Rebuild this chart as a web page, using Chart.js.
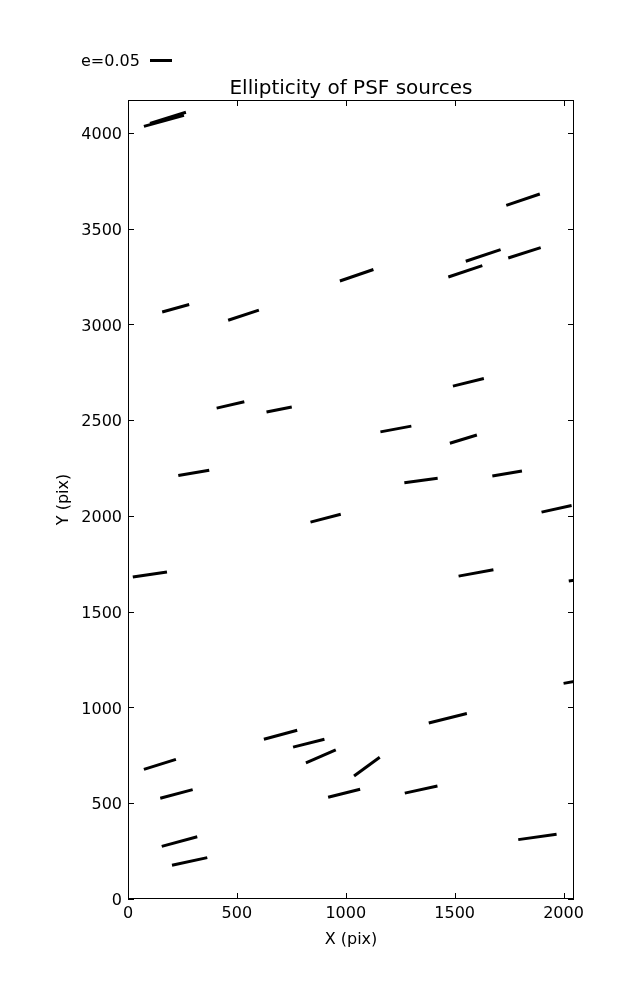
<!DOCTYPE html>
<html>
<head>
<meta charset="utf-8">
<title>Ellipticity of PSF sources</title>
<script src="https://cdn.jsdelivr.net/npm/chart.js@4.4.1/dist/chart.umd.min.js"></script>
<style>
    html, body { margin: 0; padding: 0; background: #fff; }
    canvas { display: block; }
</style>
</head>
<body>
<canvas id="psfChart" width="637" height="1000"></canvas>
<script>
// Whisker end points (detector pixels), one entry per PSF source
const xStart = [73, 101, 157, 460, 973, 1471, 1551, 1737, 1746, 407, 636, 231, 838, 22,
                1492, 1159, 1478, 1269, 1673, 1899, 1518, 2024, 624, 758, 817, 1038,
                919, 73, 148, 155, 202, 1381, 1271, 1792, 2000];
const yStart = [4034, 4050, 3065, 3022, 3227, 3248, 3330, 3622, 3347, 2563, 2543, 2211, 1968, 1681,
                2678, 2439, 2380, 2173, 2209, 2020, 1686, 1661, 834, 793, 711, 642,
                531, 677, 526, 275, 176, 919, 553, 310, 1126];
const xEnd   = [257, 266, 281, 601, 1127, 1627, 1711, 1891, 1895, 534, 752, 373, 977, 179,
                1634, 1301, 1602, 1422, 1809, 2037, 1678, 2165, 777, 902, 954, 1156,
                1066, 220, 297, 318, 364, 1556, 1421, 1968, 2156];
const yEnd   = [4092, 4108, 3104, 3075, 3287, 3307, 3391, 3681, 3401, 2596, 2569, 2239, 2009, 1707,
                2718, 2469, 2423, 2197, 2235, 2055, 1719, 1683, 881, 834, 779, 740,
                573, 729, 571, 325, 216, 969, 590, 338, 1157];

// Axes
const xTicks = [0, 500, 1000, 1500, 2000];
const yTicks = [0, 500, 1000, 1500, 2000, 2500, 3000, 3500, 4000];
const xRange = [0, 2048];
const yRange = [0, 4172];

Chart.defaults.font.family = "'DejaVu Sans', sans-serif";
Chart.defaults.font.size = 16;
Chart.defaults.color = '#000';

// Build one two-point line per whisker
const datasets = xStart.map((x0, i) => ({
    data: [{ x: x0, y: yStart[i] }, { x: xEnd[i], y: yEnd[i] }],
    showLine: true,
    borderColor: '#000',
    borderWidth: 3,
    pointRadius: 0,
    clip: 0
}));

// Frame, inward ticks, title, axis labels and whisker key
const framePlugin = {
    id: 'frame',
    afterDraw(chart) {
        const { ctx, chartArea: a, scales: { x, y } } = chart;
        ctx.save();
        ctx.strokeStyle = '#000';
        ctx.lineWidth = 1;
        ctx.strokeRect(a.left + 0.5, a.top + 0.5, a.right - a.left - 1, a.bottom - a.top - 1);

        ctx.beginPath();
        xTicks.forEach(v => {
            const px = Math.round(x.getPixelForValue(v)) + 0.5;
            ctx.moveTo(px, a.bottom); ctx.lineTo(px, a.bottom - 6);
            ctx.moveTo(px, a.top); ctx.lineTo(px, a.top + 6);
        });
        yTicks.forEach(v => {
            const py = Math.round(y.getPixelForValue(v)) + 0.5;
            ctx.moveTo(a.left, py); ctx.lineTo(a.left + 6, py);
            ctx.moveTo(a.right, py); ctx.lineTo(a.right - 6, py);
        });
        ctx.stroke();

        ctx.fillStyle = '#000';
        ctx.textAlign = 'center';
        ctx.textBaseline = 'middle';
        ctx.font = "20px 'DejaVu Sans'";
        ctx.fillText('Ellipticity of PSF sources', (a.left + a.right) / 2, 89);

        ctx.font = "16px 'DejaVu Sans'";
        ctx.fillText('X (pix)', (a.left + a.right) / 2, 940);

        ctx.save();
        ctx.translate(64, (a.top + a.bottom) / 2);
        ctx.rotate(-Math.PI / 2);
        ctx.fillText('Y (pix)', 0, 0);
        ctx.restore();

        // key: e=0.05
        ctx.textAlign = 'left';
        ctx.fillText('e=0.05', 81, 62);
        ctx.lineWidth = 3;
        ctx.beginPath();
        ctx.moveTo(150, 60.5);
        ctx.lineTo(172, 60.5);
        ctx.stroke();
        ctx.restore();
    }
};

new Chart(document.getElementById('psfChart').getContext('2d'), {
    type: 'scatter',
    data: { datasets },
    options: {
        responsive: false,
        animation: false,
        layout: { padding: { top: 100, right: 63, bottom: 0, left: 0 } },
        plugins: {
            legend: { display: false },
            tooltip: { enabled: false }
        },
        scales: {
            x: {
                type: 'linear',
                min: xRange[0],
                max: xRange[1],
                grid: { display: false, drawTicks: false },
                border: { display: false },
                ticks: { padding: 5, maxRotation: 0, callback: v => String(v) },
                afterBuildTicks: scale => { scale.ticks = xTicks.map(v => ({ value: v })); },
                afterFit: scale => { scale.height = 101; }
            },
            y: {
                type: 'linear',
                min: yRange[0],
                max: yRange[1],
                grid: { display: false, drawTicks: false },
                border: { display: false },
                ticks: { padding: 6, labelOffset: 2, callback: v => String(v) },
                afterBuildTicks: scale => { scale.ticks = yTicks.map(v => ({ value: v })); },
                afterFit: scale => { scale.width = 128; }
            }
        }
    },
    plugins: [framePlugin]
});
</script>
</body>
</html>
